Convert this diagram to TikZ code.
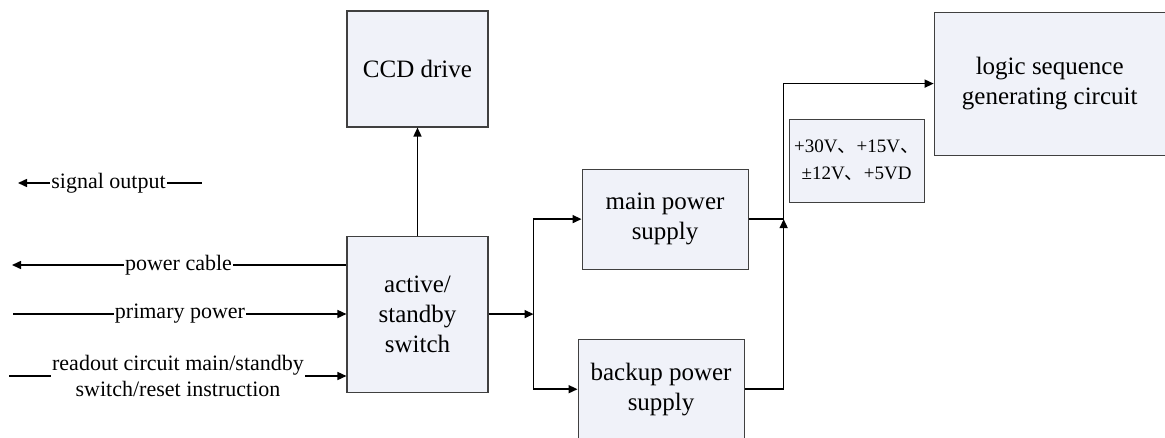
\documentclass[tikz,border=0pt]{standalone}
\usepackage{fontspec}
\setmainfont{Liberation Serif}
\newfontfamily\cjk{Noto Sans CJK SC}
\usetikzlibrary{arrows.meta, positioning, calc}
\definecolor{boxfill}{RGB}{240,242,249}
\newcommand{\dun}{{\cjk 、}}

\begin{document}
\begin{tikzpicture}[
  x=1pt, y=1pt,
  font=\fontsize{25}{30}\selectfont,
  block/.style={draw=black!75, line width=1.1pt, align=center, inner sep=2pt,
                fill=boxfill},
  lbl/.style={inner sep=1pt, align=center, font=\fontsize{22}{26}\selectfont},
  wire/.style={line width=1.5pt, color=black},
  arr/.style={wire, -{Triangle[length=9pt, width=8pt]}}
]
\useasboundingbox (0,0) rectangle (1165,-437);
\node[block, minimum width=141pt, minimum height=116pt] (ccd) at (417.5,-69) {CCD drive};
\node[block, minimum width=141pt, minimum height=156pt, below=108pt of ccd] (switch)
  {active/\\standby\\switch};
\node[block, minimum width=166pt, minimum height=100pt, right=93pt of switch, yshift=95pt] (main)
  {main power\\supply};
\node[block, minimum width=166pt, minimum height=100pt, below=69pt of main, xshift=-4pt] (backup)
  {backup power\\supply};
\node[block, minimum width=231pt, minimum height=143pt, right=185pt of main, yshift=135.5pt] (logic)
  {logic sequence\\generating circuit};
\node[block, minimum width=135pt, minimum height=83pt, left=9pt of logic, yshift=-77pt,
  font=\fontsize{19}{27}\selectfont] (volt) {+30V\dun+15V\dun\\±12V\dun+5VD};
\node[lbl] (sigout) at (108.5,-183) {signal output};
\node[lbl] (cable) at (178.5,-265) {power cable};
\node[lbl] (prim) at (180,-314) {primary power};
\node[lbl] (readout) at (178,-376) {readout circuit main/standby\\switch/reset instruction};
\coordinate (sigend) at (18,-183);
\coordinate (sigtail) at (202,-183);
\coordinate (cableend) at (12,-265);
\coordinate (primstart) at (13,-314);
\coordinate (readstart) at (9,-376);
\draw[arr] (sigout.west) -- (sigend);
\draw[wire] (sigout.east) -- (sigtail);
\draw[arr] (cable.west) -- (cableend);
\draw[wire] (switch.west |- cable) -- (cable.east);
\draw[wire] (primstart) -- (prim.west);
\draw[arr] (prim.east) -- (prim.east -| switch.west);
\draw[wire] (readstart) -- (readout.west);
\draw[arr] (readout.east) -- (readout.east -| switch.west);
\draw[arr] (switch.north) -- (ccd.south);
\coordinate (split) at ([xshift=45pt]switch.east);
\draw[arr] (switch.east) -- (split);
\draw[arr] (split) |- (main.west);
\draw[arr] (split) |- (backup.west);
\coordinate (merge) at ([xshift=35pt]main.east);
\draw[wire] (main.east) -- (merge);
\draw[arr] (backup.east) -| (merge);
\draw[arr] (merge) |- (logic.west);
\end{tikzpicture}
\end{document}
